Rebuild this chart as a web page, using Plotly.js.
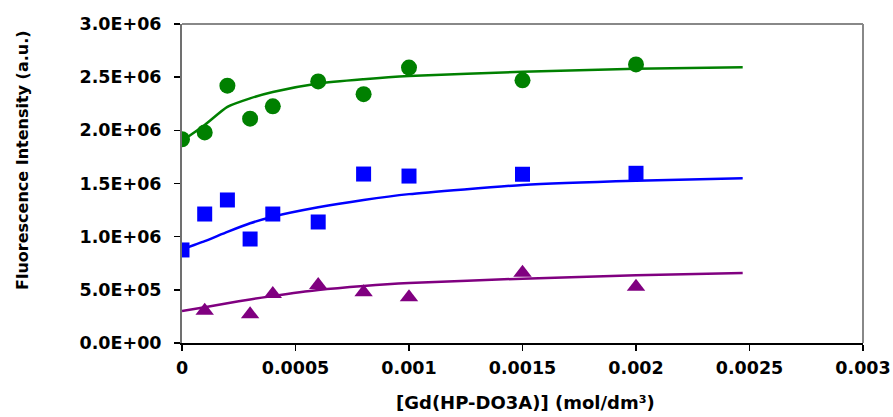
<!DOCTYPE html>
<html>
<head>
<meta charset="utf-8">
<script src="https://cdn.plot.ly/plotly-3.0.1.min.js"></script>
<style>html,body{margin:0;padding:0;background:#fff;}#chart{width:893px;height:417px;}</style>
</head>
<body>
<div id="chart"></div>
<script>
// Measured points
const greenX = [0, 0.0001, 0.0002, 0.0003, 0.0004, 0.0006, 0.0008, 0.001, 0.0015, 0.002];
const greenY = [1.916e6, 1.98e6, 2.42e6, 2.11e6, 2.226e6, 2.46e6, 2.34e6, 2.59e6, 2.47e6, 2.62e6];
const blueX = [0, 0.0001, 0.0002, 0.0003, 0.0004, 0.0006, 0.0008, 0.001, 0.0015, 0.002];
const blueY = [0.875e6, 1.213e6, 1.345e6, 0.978e6, 1.213e6, 1.138e6, 1.589e6, 1.57e6, 1.587e6, 1.596e6];
const purpleX = [0.0001, 0.0003, 0.0004, 0.0006, 0.0008, 0.001, 0.0015, 0.002];
const purpleY = [0.304e6, 0.27e6, 0.46e6, 0.545e6, 0.477e6, 0.43e6, 0.661e6, 0.53e6];
// Fitted curves
const fitX = [0, 0.0001, 0.0002, 0.0003, 0.0004, 0.0006, 0.0008, 0.001, 0.0015, 0.002, 0.00247];
const greenFit = [1.90e6, 2.05e6, 2.22e6, 2.30e6, 2.36e6, 2.44e6, 2.48e6, 2.51e6, 2.55e6, 2.58e6, 2.593e6];
const blueFit = [0.88e6, 0.958e6, 1.045e6, 1.126e6, 1.188e6, 1.276e6, 1.345e6, 1.40e6, 1.486e6, 1.526e6, 1.549e6];
const purpleFit = [0.30e6, 0.336e6, 0.373e6, 0.41e6, 0.442e6, 0.498e6, 0.536e6, 0.564e6, 0.605e6, 0.637e6, 0.658e6];
const xTicks = [0, 0.0005, 0.001, 0.0015, 0.002, 0.0025, 0.003];
const xTickText = ['0', '0.0005', '0.001', '0.0015', '0.002', '0.0025', '0.003'];
const yTicks = [0, 5e5, 1e6, 1.5e6, 2e6, 2.5e6, 3e6];
const yTickText = ['0.0E+00', '5.0E+05', '1.0E+06', '1.5E+06', '2.0E+06', '2.5E+06', '3.0E+06'];
const xTitle = '[Gd(HP-DO3A)] (mol/dm³)';
const yTitle = 'Fluorescence Intensity (a.u.)';

const GREEN = '#008000', BLUE = '#0000ff', PURPLE = '#800080';
const FAM = 'DejaVu Sans, Verdana, sans-serif';
const traces = [
  {x: fitX, y: greenFit, mode: 'lines', line: {color: GREEN, width: 2.5, shape: 'spline', smoothing: 0.6}, hoverinfo: 'skip'},
  {x: fitX, y: blueFit, mode: 'lines', line: {color: BLUE, width: 2.5, shape: 'spline', smoothing: 0.5}, hoverinfo: 'skip'},
  {x: fitX, y: purpleFit, mode: 'lines', line: {color: PURPLE, width: 2.5, shape: 'spline', smoothing: 0.6}, hoverinfo: 'skip'},
  {x: greenX, y: greenY, mode: 'markers', marker: {symbol: 'circle', size: 16, color: GREEN}},
  {x: blueX, y: blueY, mode: 'markers', marker: {symbol: 'square', size: 15, color: BLUE}},
  {x: purpleX, y: purpleY, mode: 'markers', marker: {symbol: 'triangle-up', size: 16, color: PURPLE}}
];
const tickFont = {family: FAM, size: 17.5, color: '#000', weight: 'bold'};
const layout = {
  width: 893, height: 417,
  margin: {l: 182, r: 30, t: 24, b: 74},
  paper_bgcolor: '#fff', plot_bgcolor: '#fff',
  showlegend: false,
  font: {family: FAM, size: 14, color: '#000'},
  xaxis: {
    range: [0, 0.003], tickvals: xTicks, ticktext: xTickText,
    showgrid: false, zeroline: false, showline: true, linecolor: '#000', linewidth: 2,
    ticks: 'outside', ticklen: 6, tickwidth: 1.5, tickcolor: '#000',
    ticklabelstandoff: 2,
    tickfont: tickFont
  },
  yaxis: {
    range: [0, 3e6], tickvals: yTicks, ticktext: yTickText,
    showgrid: false, zeroline: false, showline: true, linecolor: '#707070', linewidth: 2,
    ticks: 'outside', ticklen: 6, tickwidth: 1.5, tickcolor: '#000',
    ticklabelstandoff: 9,
    tickfont: tickFont
  },
  annotations: [
    {text: xTitle, xref: 'paper', yref: 'paper', x: 0.5044, y: -0.188, xanchor: 'center', yanchor: 'middle', showarrow: false,
     font: {family: FAM, size: 18, color: '#000', weight: 'bold'}},
    {text: yTitle, xref: 'paper', yref: 'paper', x: -0.2335, y: 0.5737, xanchor: 'center', yanchor: 'middle', textangle: -90, showarrow: false,
     font: {family: FAM, size: 16, color: '#000', weight: 'bold'}}
  ],
  shapes: [
    {type: 'line', xref: 'paper', yref: 'paper', x0: 0, x1: 1, y0: 1, y1: 1, line: {color: '#888', width: 2}},
    {type: 'line', xref: 'paper', yref: 'paper', x0: 1, x1: 1, y0: 0, y1: 1, line: {color: '#888', width: 2}}
  ]
};
Plotly.newPlot('chart', traces, layout, {displayModeBar: false, staticPlot: true});
</script>
</body>
</html>
